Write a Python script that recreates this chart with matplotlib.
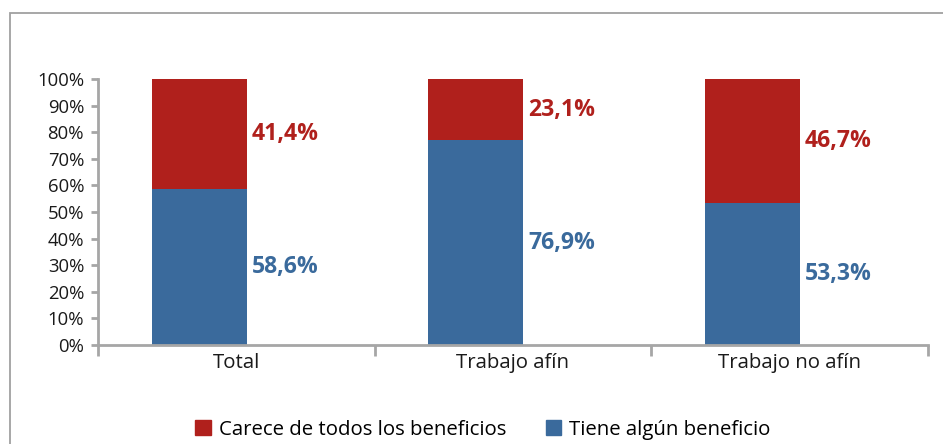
import matplotlib
matplotlib.use("Agg")
import matplotlib.pyplot as plt
from matplotlib.patches import Rectangle
from matplotlib.ticker import FixedLocator, PercentFormatter

plt.rcParams['font.family'] = ['Open Sans', 'DejaVu Sans']

categories = ["Total", "Trabajo afín", "Trabajo no afín"]
tiene = [58.6, 76.9, 53.3]
carece = [41.4, 23.1, 46.7]
tiene_labels = ["58,6%", "76,9%", "53,3%"]
carece_labels = ["41,4%", "23,1%", "46,7%"]
legend_labels = ["Carece de todos los beneficios", "Tiene algún beneficio"]

RED = "#B0201C"
BLUE = "#3A6A9C"
AXIS = "#A6A6A6"

W, H = 943, 444
fig = plt.figure(figsize=(W / 100, H / 100), dpi=100)
ax = fig.add_axes([98 / W, 1 - 345 / H, (928 - 98) / W, (345 - 79) / H])

# outer border (partially cut)
fig.patches.append(Rectangle((10 / W, -0.1), 1.2, 1 - 13 / H + 0.1, transform=fig.transFigure,
                             fill=False, edgecolor="#A0A0A0", linewidth=1.3))

x = list(range(len(categories)))
bw = 0.343
shift = -0.134
xb = [i + shift for i in x]
ax.bar(xb, tiene, width=bw, color=BLUE, zorder=2)
ax.bar(xb, carece, width=bw, bottom=tiene, color=RED, zorder=2)

for i in x:
    ax.annotate(carece_labels[i], (xb[i] + bw / 2, tiene[i] + carece[i] / 2), xytext=(3.5, 0),
                textcoords="offset points", ha="left", va="center", color=RED,
                fontsize=16.6, fontweight="bold")
    ax.annotate(tiene_labels[i], (xb[i] + bw / 2, tiene[i] / 2), xytext=(3.5, 0),
                textcoords="offset points", ha="left", va="center", color=BLUE,
                fontsize=16.6, fontweight="bold")

ax.set_xlim(-0.5, 2.5)
ax.set_ylim(0, 100)
ax.set_yticks(range(0, 101, 10))
ax.yaxis.set_major_formatter(PercentFormatter(decimals=0))
ax.set_xticks(x)
ax.set_xticklabels(categories)
ax.xaxis.set_minor_locator(FixedLocator([-0.5, 0.5, 1.5, 2.5]))

for s in ["top", "right"]:
    ax.spines[s].set_visible(False)
for s in ["left", "bottom"]:
    ax.spines[s].set_color(AXIS)
    ax.spines[s].set_linewidth(2)

ax.tick_params(axis="y", length=5, width=2, color=AXIS, labelsize=13.3, pad=5, labelcolor="#1a1a1a")
ax.tick_params(axis="x", which="major", length=0, labelsize=14.7, pad=6, labelcolor="#1a1a1a")
ax.tick_params(axis="x", which="minor", length=8, width=2, color=AXIS)

handles = [Rectangle((0, 0), 1, 1, color=RED), Rectangle((0, 0), 1, 1, color=BLUE)]
fig.legend(handles, legend_labels, loc="center", bbox_to_anchor=(483 / W, 1 - 430 / H),
           ncol=2, frameon=False, fontsize=14.7, handlelength=0.75, handleheight=0.75,
           handletextpad=0.4, columnspacing=1.95)

fig.savefig("out.png", dpi=100)
